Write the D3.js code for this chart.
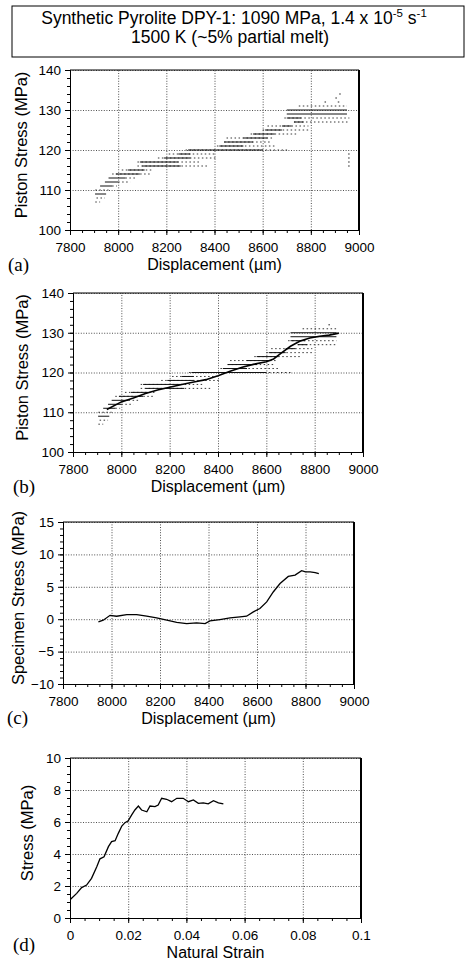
<!DOCTYPE html>
<html>
<head>
<meta charset="utf-8">
<script src="https://cdn.jsdelivr.net/npm/d3@7"></script>
<style>
  body { margin: 0; background: #fff; }
  svg { display: block; font-family: "Liberation Sans", Arial, sans-serif; }
  .grid line { stroke: #222; stroke-width: 0.8; stroke-dasharray: 1,1.6; }
  .grid .domain { display: none; }
  .axis path, .axis line { stroke: #000; stroke-width: 1; }
  .axis text { font-size: 13.5px; fill: #000; }
</style>
</head>
<body>
<svg id="chart" width="466" height="962"></svg>
<script>
// piston stress record (MPa), read as horizontal runs: [stress, x0, x1]
var denseRuns = [
  [109, 7904, 7950], [111, 7925, 7975], [112, 7945, 8000], [113, 7960, 8030],
  [114, 7990, 8090], [115, 8040, 8110], [116, 8100, 8260], [117, 8090, 8250],
  [118, 8190, 8300], [119, 8250, 8300], [120, 8290, 8600], [121, 8420, 8520],
  [122, 8440, 8560], [123, 8520, 8620], [124, 8560, 8650], [125, 8610, 8680],
  [126, 8680, 8720], [127, 8730, 8770], [128, 8700, 8760], [129, 8700, 8950],
  [130, 8700, 8950]
];
var sparseRuns = [
  [107, 7905, 7925], [108, 7910, 7945], [110, 7905, 7960], [111, 7975, 7995],
  [112, 8000, 8050], [113, 8030, 8070], [114, 7975, 8140], [115, 8015, 8145],
  [116, 8080, 8370], [117, 8080, 8340], [118, 8165, 8410], [119, 8210, 8400],
  [120, 8280, 8710], [121, 8410, 8650], [122, 8440, 8630], [123, 8450, 8640],
  [124, 8550, 8740], [125, 8600, 8790], [126, 8620, 8790], [127, 8730, 8960],
  [128, 8690, 8960], [131, 8750, 8950]
];
var strayPoints = [
  [8860, 132], [8915, 132], [8905, 133], [8921, 134],
  [8958, 116], [8958, 117], [8958, 118], [8958, 119]
];
// smoothed piston stress, panel (b)
var smoothX = [7940, 8000, 8050, 8100, 8150, 8200, 8250, 8300, 8350, 8400, 8450,
  8500, 8550, 8600, 8630, 8660, 8700, 8740, 8780, 8820, 8860, 8900];
var smoothY = [110.7, 112.6, 113.6, 114.7, 115.6, 116.3, 117.0, 117.6, 118.2, 119.2, 120.3,
  121.3, 122.1, 122.7, 123.4, 124.8, 126.6, 127.9, 128.7, 129.1, 129.4, 129.9];
// specimen stress, panel (c)
var specX = [7946, 7966, 7994, 8021, 8063, 8104, 8145, 8186, 8228, 8269, 8310, 8351,
  8386, 8406, 8447, 8489, 8530, 8557, 8585, 8612, 8640, 8667, 8695, 8729, 8757,
  8784, 8800, 8819, 8840, 8855];
var specY = [-0.4, -0.15, 0.6, 0.46, 0.72, 0.72, 0.46, 0.2, -0.15, -0.5, -0.67, -0.57,
  -0.67, -0.26, -0.05, 0.2, 0.36, 0.46, 1.13, 1.65, 2.67, 4.2, 5.5, 6.6, 6.8,
  7.5, 7.3, 7.3, 7.2, 7.05];
// stress vs natural strain, panel (d)
var strainX = [0.0002, 0.0023, 0.004, 0.0057, 0.0074, 0.0092, 0.0103, 0.0117, 0.0132,
  0.0143, 0.0155, 0.0166, 0.0178, 0.0189, 0.02, 0.0212, 0.0223, 0.0235, 0.0246,
  0.0264, 0.0275, 0.0292, 0.0303, 0.0315, 0.0332, 0.0349, 0.0367, 0.0389, 0.0407,
  0.0424, 0.0441, 0.0458, 0.0475, 0.0493, 0.051, 0.0527];
var strainY = [1.17, 1.54, 1.9, 2.06, 2.48, 3.2, 3.7, 3.83, 4.46, 4.77, 4.83, 5.29,
  5.75, 5.96, 6.08, 6.44, 6.75, 7.0, 6.75, 6.64, 7.0, 6.96, 7.06, 7.48, 7.42,
  7.27, 7.48, 7.48, 7.27, 7.38, 7.17, 7.2, 7.13, 7.33, 7.2, 7.13];

var dispTicks = [7800, 8000, 8200, 8400, 8600, 8800, 9000];
var strainTicks = [0, 0.02, 0.04, 0.06, 0.08, 0.1];
var titleLines = ['Synthetic Pyrolite DPY-1: 1090 MPa, 1.4 x 10', '1500 K (~5% partial melt)'];

var svg = d3.select('#chart');

// title box
svg.append('rect').attr('x', 12).attr('y', 6).attr('width', 452).attr('height', 51)
  .attr('fill', 'none').attr('stroke', '#000').attr('stroke-width', 1);
var t1 = svg.append('text').attr('x', 234).attr('y', 24).attr('text-anchor', 'middle')
  .style('font-size', '17.5px');
t1.append('tspan').text(titleLines[0]);
t1.append('tspan').attr('dy', -7).style('font-size', '11.5px').text('-5');
t1.append('tspan').attr('dy', 7).text(' s');
t1.append('tspan').attr('dy', -7).style('font-size', '11.5px').text('-1');
svg.append('text').attr('x', 230).attr('y', 43).attr('text-anchor', 'middle')
  .style('font-size', '17.5px').text(titleLines[1]);

function panel(o) {
  var x = d3.scaleLinear().domain(o.xDomain).range([o.left, o.right]);
  var y = d3.scaleLinear().domain(o.yDomain).range([o.bottom, o.top]);
  var g = svg.append('g');

  // dotted grid
  g.append('g').attr('class', 'grid').attr('transform', 'translate(0,' + o.bottom + ')')
    .call(d3.axisBottom(x).tickValues(o.xTicks).tickSize(-(o.bottom - o.top)).tickFormat(''));
  g.append('g').attr('class', 'grid').attr('transform', 'translate(' + o.left + ',0)')
    .call(d3.axisLeft(y).tickValues(o.yTicks).tickSize(-(o.right - o.left)).tickFormat(''));

  // minor ticks
  g.append('g').attr('class', 'axis').attr('transform', 'translate(0,' + o.bottom + ')')
    .call(d3.axisBottom(x).tickValues(o.xMinor).tickSize(3).tickFormat(''));
  g.append('g').attr('class', 'axis').attr('transform', 'translate(' + o.left + ',0)')
    .call(d3.axisLeft(y).tickValues(o.yMinor).tickSize(3).tickFormat(''));

  // main axes
  var xa = g.append('g').attr('class', 'axis').attr('transform', 'translate(0,' + o.bottom + ')')
    .call(d3.axisBottom(x).tickValues(o.xTicks).tickSize(5).tickSizeOuter(0).tickFormat(o.xFormat));
  xa.selectAll('text').attr('dy', '1.0em');
  var ya = g.append('g').attr('class', 'axis').attr('transform', 'translate(' + o.left + ',0)')
    .call(d3.axisLeft(y).tickValues(o.yTicks).tickSize(5).tickSizeOuter(0));
  ya.selectAll('text').attr('x', -9);

  // frame: top thin, right heavy
  g.append('line').attr('x1', o.left).attr('x2', o.right).attr('y1', o.top).attr('y2', o.top)
    .attr('stroke', '#000').attr('stroke-width', 1);
  g.append('line').attr('x1', o.right).attr('x2', o.right).attr('y1', o.top).attr('y2', o.bottom)
    .attr('stroke', '#000').attr('stroke-width', 2);

  // titles
  g.append('text').attr('x', (o.left + o.right) / 2).attr('y', o.bottom + 40)
    .attr('text-anchor', 'middle').style('font-size', '16px').text(o.xTitle);
  g.append('text').attr('transform', 'translate(' + (o.yTitleX) + ',' + ((o.top + o.bottom) / 2 - 5) + ') rotate(-90)')
    .attr('text-anchor', 'middle').attr('dy', '0.35em').style('font-size', '16.5px').text(o.yTitle);
  g.append('text').attr('x', o.tagX).attr('y', o.tagY)
    .style('font-family', '"Liberation Serif", "Times New Roman", serif').style('font-size', '19px')
    .text(o.tag);

  return {g: g, x: x, y: y};
}

var dispMinor = d3.range(7800, 9001, 50);

function drawScatter(p, xmax) {
  var dense = denseRuns.filter(function(d) { return d[1] <= xmax; });
  var sparse = sparseRuns.filter(function(d) { return d[1] <= xmax; });
  p.g.selectAll('.run-sparse').data(sparse).enter().append('line')
    .attr('class', 'run-sparse')
    .attr('x1', function(d) { return p.x(d[1]); })
    .attr('x2', function(d) { return p.x(Math.min(d[2], xmax)); })
    .attr('y1', function(d) { return p.y(d[0]); })
    .attr('y2', function(d) { return p.y(d[0]); })
    .attr('stroke', '#222').attr('stroke-width', 0.9).attr('stroke-dasharray', '1.5,2.5');
  p.g.selectAll('.run-dense').data(dense).enter().append('line')
    .attr('class', 'run-dense')
    .attr('x1', function(d) { return p.x(d[1]); })
    .attr('x2', function(d) { return p.x(Math.min(d[2], xmax)); })
    .attr('y1', function(d) { return p.y(d[0]); })
    .attr('y2', function(d) { return p.y(d[0]); })
    .attr('stroke', '#111').attr('stroke-width', 1);
  p.g.selectAll('.stray').data(strayPoints.filter(function(d) { return d[0] <= xmax; }))
    .enter().append('rect').attr('class', 'stray')
    .attr('x', function(d) { return p.x(d[0]) - 0.75; })
    .attr('y', function(d) { return p.y(d[1]) - 0.5; })
    .attr('width', 1.5).attr('height', 1).attr('fill', '#222');
}

var line = d3.line();

// (a)
var pa = panel({left: 70, right: 359, top: 70, bottom: 230,
  xDomain: [7800, 9000], yDomain: [100, 140], xTicks: dispTicks, yTicks: [100, 110, 120, 130, 140],
  xMinor: dispMinor, yMinor: d3.range(100, 141, 2), xFormat: d3.format('d'),
  xTitle: 'Displacement (\u00b5m)', yTitle: 'Piston Stress (MPa)', yTitleX: 21,
  tag: '(a)', tagX: 8, tagY: 271});
drawScatter(pa, 9000);

// (b)
var pb = panel({left: 73, right: 363, top: 293, bottom: 452,
  xDomain: [7800, 9000], yDomain: [100, 140], xTicks: dispTicks, yTicks: [100, 110, 120, 130, 140],
  xMinor: dispMinor, yMinor: d3.range(100, 141, 2), xFormat: d3.format('d'),
  xTitle: 'Displacement (\u00b5m)', yTitle: 'Piston Stress (MPa)', yTitleX: 22,
  tag: '(b)', tagX: 13, tagY: 493});
drawScatter(pb, 8890);
pb.g.append('path')
  .attr('d', line(smoothX.map(function(v, i) { return [pb.x(v), pb.y(smoothY[i])]; })))
  .attr('fill', 'none').attr('stroke', '#000').attr('stroke-width', 1.6);

// (c)
var pc = panel({left: 63, right: 354, top: 522, bottom: 684,
  xDomain: [7800, 9000], yDomain: [-10, 15], xTicks: dispTicks, yTicks: [-10, -5, 0, 5, 10, 15],
  xMinor: dispMinor, yMinor: d3.range(-10, 16, 1), xFormat: d3.format('d'),
  xTitle: 'Displacement (\u00b5m)', yTitle: 'Specimen Stress (MPa)', yTitleX: 18,
  tag: '(c)', tagX: 7, tagY: 724});
pc.g.append('path')
  .attr('d', line(specX.map(function(v, i) { return [pc.x(v), pc.y(specY[i])]; })))
  .attr('fill', 'none').attr('stroke', '#000').attr('stroke-width', 1.3);

// (d)
var pd = panel({left: 70, right: 361, top: 758, bottom: 918,
  xDomain: [0, 0.1], yDomain: [0, 10], xTicks: strainTicks, yTicks: [0, 2, 4, 6, 8, 10],
  xMinor: d3.range(0, 0.1001, 0.005), yMinor: d3.range(0, 10.01, 0.5), xFormat: function(d) { return d3.format('')(+d.toFixed(2)); },
  xTitle: 'Natural Strain', yTitle: 'Stress (MPa)', yTitleX: 27,
  tag: '(d)', tagX: 13, tagY: 951});
pd.g.append('path')
  .attr('d', line(strainX.map(function(v, i) { return [pd.x(v), pd.y(strainY[i])]; })))
  .attr('fill', 'none').attr('stroke', '#000').attr('stroke-width', 1.3);
</script>
</body>
</html>
